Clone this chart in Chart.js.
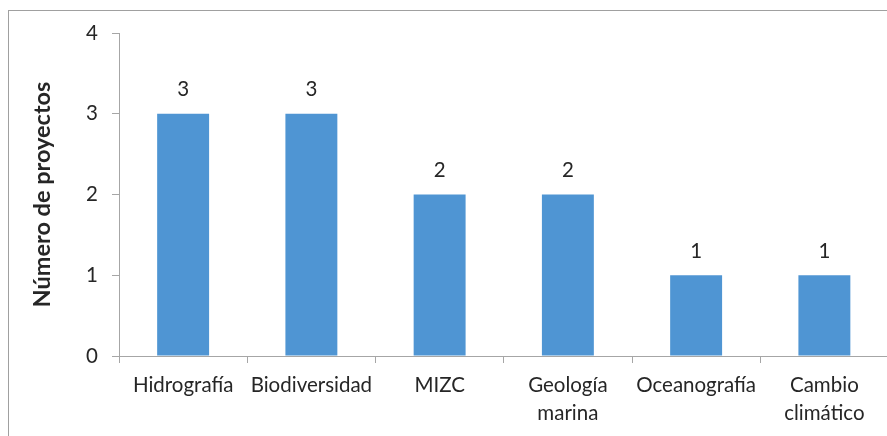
<!DOCTYPE html>
<html lang="es">
	<head>
		<meta charset="UTF-8" />
		<title>Número de proyectos</title>
		<script src="https://cdn.jsdelivr.net/npm/chart.js"></script>
		<style>
			html,
			body {
				margin: 0;
				padding: 0;
				overflow: hidden;
				background: #fff;
			}
			#frame {
				position: absolute;
				left: 8px;
				top: 10px;
				width: 900px;
				height: 440px;
				border-top: 1px solid #a0a0a0;
				border-left: 1px solid #a0a0a0;
			}
			#myChart {
				position: absolute;
				left: 0;
				top: 0;
			}
		</style>
	</head>
	<body>
		<div id="frame"></div>
		<canvas id="myChart" width="900" height="436"></canvas>

		<script>
			const categories = ["Hidrografía", "Biodiversidad", "MIZC", ["Geología", "marina"], "Oceanografía", ["Cambio", "climático"]];
			const projects = [3, 3, 2, 2, 1, 1];
			const yTicks = [0, 1, 2, 3, 4];

			const fontFamily = "Lato, 'Open Sans', sans-serif";
			const textColor = "#262626";
			const axisColor = "#a6a6a6";

			// numbers above each bar
			const barLabels = {
				id: "barLabels",
				afterDatasetsDraw(chart) {
					const ctx = chart.ctx;
					const meta = chart.getDatasetMeta(0);
					ctx.save();
					ctx.font = "20.5px " + fontFamily;
					ctx.fillStyle = textColor;
					ctx.textAlign = "center";
					ctx.textBaseline = "middle";
					meta.data.forEach((bar, i) => {
						ctx.fillText(projects[i], bar.x, bar.y - 24);
					});
					ctx.restore();
				},
			};

			new Chart(document.getElementById("myChart"), {
				type: "bar",
				data: {
					labels: categories,
					datasets: [
						{
							data: projects,
							backgroundColor: "#4f95d3",
							barPercentage: 0.405,
							categoryPercentage: 1,
						},
					],
				},
				options: {
					responsive: false,
					animation: false,
					layout: {
						padding: { left: 0, top: 33, right: 11.5, bottom: 0 },
					},
					plugins: {
						legend: { display: false },
						tooltip: { enabled: false },
					},
					scales: {
						x: {
							grid: {
								display: true,
								drawOnChartArea: false,
								tickLength: 7,
								color: axisColor,
								offset: true,
							},
							border: { color: axisColor },
							ticks: {
								color: textColor,
								font: { family: fontFamily, size: 20.5, lineHeight: 1.37 },
								padding: 8,
								maxRotation: 0,
								autoSkip: false,
							},
							afterFit(scale) {
								scale.height = 80;
							},
						},
						y: {
							min: 0,
							max: 4,
							afterBuildTicks(scale) {
								scale.ticks = yTicks.map((v) => ({ value: v }));
							},
							grid: {
								display: true,
								drawOnChartArea: false,
								tickLength: 7,
								color: axisColor,
							},
							border: { color: axisColor },
							ticks: {
								color: textColor,
								font: { family: fontFamily, size: 20.5 },
								padding: 14,
							},
							title: {
								display: true,
								text: "Número de proyectos",
								color: textColor,
								font: { family: fontFamily, size: 23.5, weight: "bold" },
								padding: { top: 28, bottom: 0 },
							},
							afterFit(scale) {
								scale.width = 119;
							},
						},
					},
				},
				plugins: [barLabels],
			});
		</script>
	</body>
</html>
